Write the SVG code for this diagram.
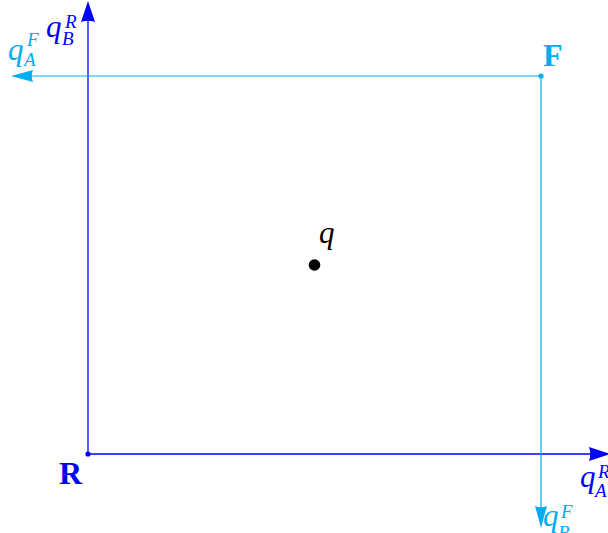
<svg xmlns="http://www.w3.org/2000/svg" width="608" height="533" viewBox="0 0 608 533">
<style>
.b{stroke:#0000ff;stroke-width:1.3;fill:none}
.c{stroke:#00aeef;stroke-width:1.2;fill:none}
.tb{fill:#0000ff}
.tc{fill:#00aeef}
.it{font-family:"Liberation Serif","DejaVu Serif",serif;font-style:italic}
.q{font-size:31px}
.s{font-size:19px}
.bd{font-family:"Liberation Serif","DejaVu Serif",serif;font-weight:bold;font-size:32px}
</style>
<defs>
<path id="ah" d="M0,0 L-21,-7 Q-18.5,0 -21,7 Z"/>
</defs>
<rect width="608" height="533" fill="#fff"/>
<g id="connectors">
<line class="b" x1="88" y1="454" x2="88" y2="18"/>
<use href="#ah" class="tb" transform="translate(88,1) rotate(-90)"/>
<line class="b" x1="88" y1="454" x2="596" y2="454"/>
<use href="#ah" class="tb" transform="translate(610,454)"/>
<line class="c" x1="541" y1="76" x2="28" y2="76"/>
<use href="#ah" class="tc" transform="translate(11,76) rotate(180) scale(1.05,0.85)"/>
<line class="c" x1="541" y1="76" x2="541" y2="512"/>
<use href="#ah" class="tc" transform="translate(541,528) rotate(90) scale(1.05,0.85)"/>
</g>
<g id="R">
<circle cx="88" cy="454" r="2.6" class="tb"/>
<text x="59" y="484" class="bd tb">R</text>
</g>
<g id="F">
<circle cx="541" cy="76" r="2.6" class="tc"/>
<text x="543" y="66" class="bd tc">F</text>
</g>
<g id="q">
<circle cx="314.5" cy="265" r="5.8" fill="#000"/>
<text x="319" y="243" class="it q">q</text>
</g>
<g id="label-qBR" class="tb">
<text x="46" y="37" class="it q">q</text>
<text x="65" y="28" class="it s">R</text>
<text x="62" y="45" class="it s">B</text>
</g>
<g id="label-qAF" class="tc">
<text x="8" y="60" class="it q">q</text>
<text x="27" y="46" class="it s">F</text>
<text x="24" y="66" class="it s">A</text>
</g>
<g id="label-qAR" class="tb">
<text x="580" y="487" class="it q">q</text>
<text x="598" y="478" class="it s">R</text>
<text x="595" y="497" class="it s">A</text>
</g>
<g id="label-qBF" class="tc">
<text x="543" y="526" class="it q">q</text>
<text x="561" y="518" class="it s">F</text>
<text x="558" y="539" class="it s">B</text>
</g>
</svg>
